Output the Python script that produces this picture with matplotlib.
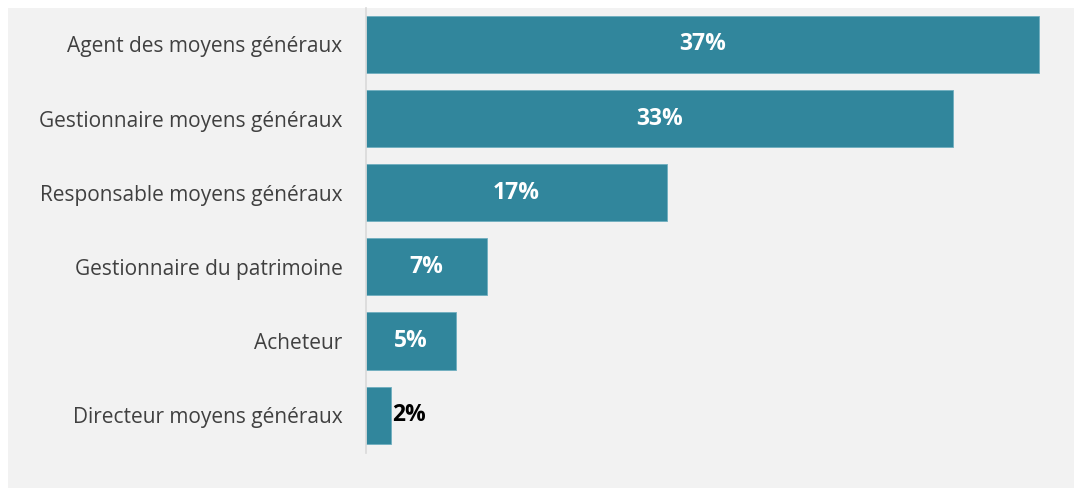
import matplotlib
matplotlib.use("Agg")
import matplotlib.pyplot as plt
from matplotlib.patches import Rectangle

# Data
categories = [
    "Agent des moyens généraux",
    "Gestionnaire moyens généraux",
    "Responsable moyens généraux",
    "Gestionnaire du patrimoine",
    "Acheteur",
    "Directeur moyens généraux",
]
values = [37.4, 32.6, 16.7, 6.7, 5.0, 1.4]
value_labels = ["37%", "33%", "17%", "7%", "5%", "2%"]

BAR_COLOR = "#31869C"
PANEL_COLOR = "#F2F2F2"
TEXT_COLOR = "#404040"
FONT = ["Open Sans", "DejaVu Sans"]

fig = plt.figure(figsize=(10.74, 4.88), dpi=100)
fig.patch.set_facecolor("white")
# gray chart area, leaves a thin white strip on top and left
fig.patches.append(Rectangle((8 / 1074, 0), 1 - 8 / 1074, 480 / 488,
                             transform=fig.transFigure, facecolor=PANEL_COLOR,
                             edgecolor="none", zorder=-10))

ax = fig.add_axes([366 / 1074, 35 / 488, 684 / 1074, 445 / 488])
ax.set_facecolor("none")

y = list(range(len(categories)))
ax.barh(y, values, height=0.77, color=BAR_COLOR, edgecolor="#6FAFC0", linewidth=0.6)

for yi, v, lab in zip(y, values, value_labels):
    if v < 3:
        ax.annotate(lab, (v, yi), xytext=(1, 0), textcoords="offset points",
                    ha="left", va="center", fontsize=16.5, fontweight="bold",
                    color="black", family=FONT)
    else:
        ax.text(v / 2, yi, lab, ha="center", va="center", fontsize=16.5,
                fontweight="bold", color="white", family=FONT)

ax.set_xlim(0, 38)
ax.set_ylim(5.51, -0.49)
ax.set_yticks(y)
ax.set_yticklabels(categories, fontsize=15, color=TEXT_COLOR, family=FONT)
ax.tick_params(axis="y", length=0, pad=17)
ax.set_xticks([])

for side in ["top", "right", "bottom"]:
    ax.spines[side].set_visible(False)
ax.spines["left"].set_color("#D9D9D9")
ax.spines["left"].set_linewidth(1.2)

fig.savefig("out.png", dpi=100, facecolor=fig.get_facecolor())
